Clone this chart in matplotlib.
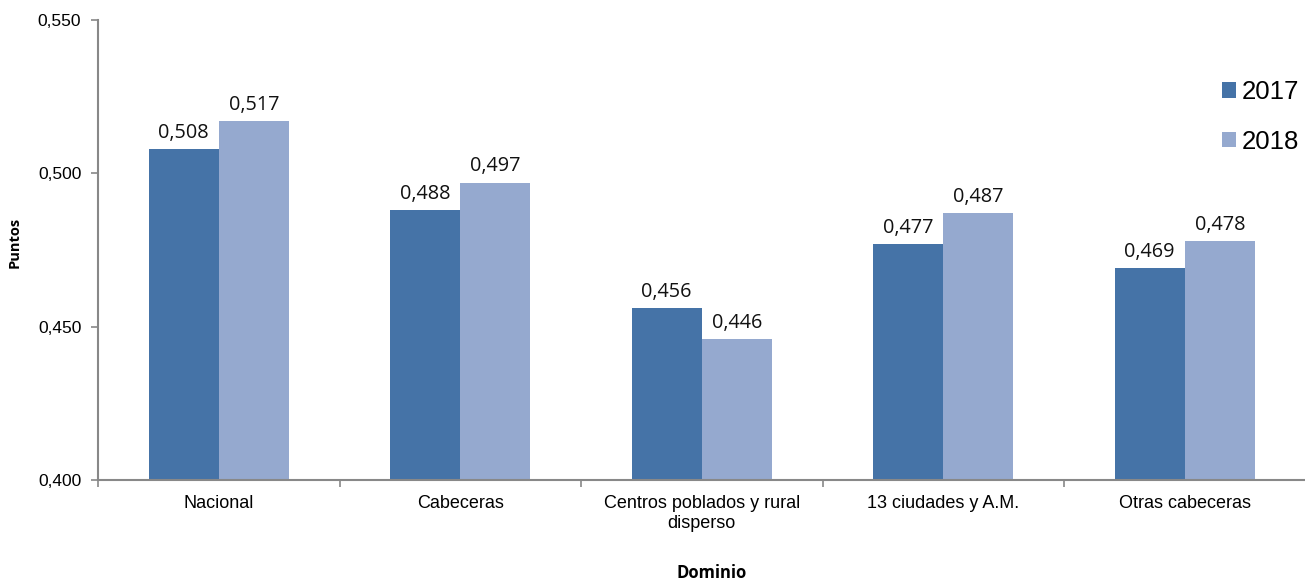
import matplotlib
matplotlib.use("Agg")
import matplotlib.pyplot as plt
import numpy as np
from matplotlib.ticker import FixedLocator, FuncFormatter

categories = ["Nacional", "Cabeceras", "Centros poblados y rural\ndisperso",
              "13 ciudades y A.M.", "Otras cabeceras"]
values_2017 = [0.508, 0.488, 0.456, 0.477, 0.469]
values_2018 = [0.517, 0.497, 0.446, 0.487, 0.478]
series_names = ["2017", "2018"]
y_ticks = [0.400, 0.450, 0.500, 0.550]

c17 = "#4573A7"
c18 = "#95A9CF"
axc = "#888888"

fig = plt.figure(figsize=(13.05, 5.81), dpi=100)
ax = fig.add_axes([98/1305, 1 - 480/581, 1207.5/1305, 460/581])

x = np.arange(len(categories))
w = 0.29
b1 = ax.bar(x - w/2, values_2017, w, color=c17, label=series_names[0])
b2 = ax.bar(x + w/2, values_2018, w, color=c18, label=series_names[1])

lab_font = dict(family="Open Sans", size=14.3, color="#111111")
for bars, vals in ((b1, values_2017), (b2, values_2018)):
    for r, v in zip(bars, vals):
        ax.annotate(f"{v:.3f}".replace(".", ","),
                    (r.get_x() + r.get_width()/2, v),
                    xytext=(0, 8), textcoords="offset points",
                    ha="center", va="baseline", **lab_font)

ax.set_xlim(-0.5, len(categories) - 0.5)
ax.set_ylim(0.400, 0.550)
ax.set_yticks(y_ticks)
ax.yaxis.set_major_formatter(FuncFormatter(lambda v, p: f"{v:.3f}".replace(".", ",")))
ax.set_xticks(x)
ax.set_xticklabels(categories, family="Liberation Sans", fontsize=13, linespacing=1.2)
ax.xaxis.set_minor_locator(FixedLocator(np.arange(-0.5, len(categories), 1.0)))
ax.tick_params(axis="x", which="major", length=0, pad=11)
ax.tick_params(axis="x", which="minor", length=5, width=1.2, color=axc, direction="out")
ax.tick_params(axis="y", length=5, width=1.2, color=axc, direction="out", pad=7)
for lbl in ax.get_yticklabels():
    lbl.set_family("Liberation Sans")
    lbl.set_fontsize(12.5)

for s in ("top", "right"):
    ax.spines[s].set_visible(False)
for s in ("left", "bottom"):
    ax.spines[s].set_color(axc)
    ax.spines[s].set_linewidth(1.5)

fig.text(15/1305, 1 - 242/581, "Puntos", ha="center", va="center", rotation=90,
         family="Open Sans", fontsize=10.5, fontweight="bold")
fig.text(712/1305, 1 - 573/581, "Dominio", ha="center", va="center",
         family="Open Sans", fontsize=12, fontweight="bold")

leg = ax.legend(loc="upper left", bbox_to_anchor=(1222/1305, 1 - 80/581),
                bbox_transform=fig.transFigure, frameon=False,
                prop=dict(family="Liberation Sans", size=18.5),
                handlelength=0.56, handleheight=0.56, handletextpad=0.2,
                labelspacing=1.0, borderaxespad=0, borderpad=0)

fig.savefig("out.png", dpi=100)
